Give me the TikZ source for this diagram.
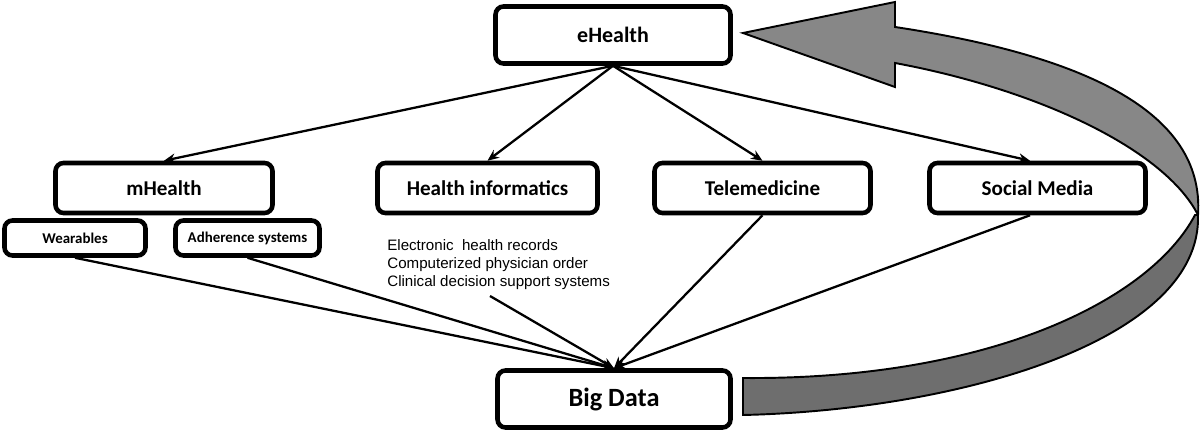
\documentclass[tikz,border=0pt]{standalone}
\usepackage{fontspec}
\setmainfont{Carlito}
\newfontfamily\listfont{Liberation Sans}
\usepackage{tikz}
\usetikzlibrary{arrows.meta}

\begin{document}
\begin{tikzpicture}[x=0.02cm,y=-0.02cm,
		every node/.style = {font=\bfseries}]
		\tikzset{box/.style={draw, line width=2.6pt, rounded corners=0.16cm,
				fill=white, minimum height=1cm, inner sep=0pt}}
		\tikzset{smallbox/.style={box, minimum height=0.7cm, font=\bfseries\fontsize{8.5}{10}\selectfont}}
		\tikzset{link/.style={line width=1.3pt, -{Stealth[length=6.5pt,width=5.5pt]}}}
		\useasboundingbox (0,0) rectangle (1200,432);
		% ribbon back to eHealth
		\fill[black!57, draw=black, line width=1.1pt]
			(1198,215) .. controls (1202,340) and (960,410) .. (743,415)
			-- (743,378) .. controls (990,380) and (1150,300) .. (1195,215) -- cycle;
		\fill[black!47, draw=black, line width=1.1pt]
			(743,33) -- (895,2) -- (895,27)
			.. controls (1080,55) and (1205,110) .. (1198,215)
			.. controls (1165,150) and (1040,90) .. (895,63)
			-- (895,87) -- cycle;
		% boxes
		\node[box, minimum width=4.7cm, minimum height=1.14cm, font=\bfseries\fontsize{12.5}{14}\selectfont] (ehealth) at (613,35) {eHealth};
		\node[box, minimum width=4.34cm, font=\bfseries\fontsize{12}{14}\selectfont] (mhealth) at (164,188) {mHealth};
		\node[box, minimum width=4.4cm, font=\bfseries\fontsize{12}{14}\selectfont] (hinf) at (487.5,188) {Health informatics};
		\node[box, minimum width=4.32cm, font=\bfseries\fontsize{12}{14}\selectfont] (telemed) at (762.5,188) {Telemedicine};
		\node[box, minimum width=4.32cm, font=\bfseries\fontsize{12}{14}\selectfont] (social) at (1037.5,188) {Social Media};
		\node[smallbox, minimum width=2.82cm] (wear) at (75,238) {Wearables};
		\node[smallbox, minimum width=2.88cm] (adher) at (247.5,238) {Adherence systems};
		\node[box, minimum width=4.66cm, minimum height=1.14cm, font=\bfseries\fontsize{15}{18}\selectfont] (bigdata) at (614,399) {Big Data};
		\node[anchor=north west, inner sep=0pt, align=left,
			font=\listfont\fontsize{8.6}{10.2}\selectfont] (ehr) at (387,239)
			{Electronic\ \ health records\\Computerized physician order\\Clinical decision support systems};
		\coordinate (ehrtail) at (490,296);
		% links
		\draw[link] (ehealth.south) -- (mhealth.north);
		\draw[link] (ehealth.south) -- (hinf.north);
		\draw[link] (ehealth.south) -- (telemed.north);
		\draw[link] (ehealth.south) -- ([xshift=-0.15cm]social.north);
		\draw[link] (wear.south) -- (bigdata.north);
		\draw[link] (adher.south) -- (bigdata.north);
		\draw[link] (ehrtail) -- (bigdata.north);
		\draw[link] (telemed.south) -- (bigdata.north);
		\draw[link] ([xshift=-0.15cm]social.south) -- (bigdata.north);
\end{tikzpicture}
\end{document}
